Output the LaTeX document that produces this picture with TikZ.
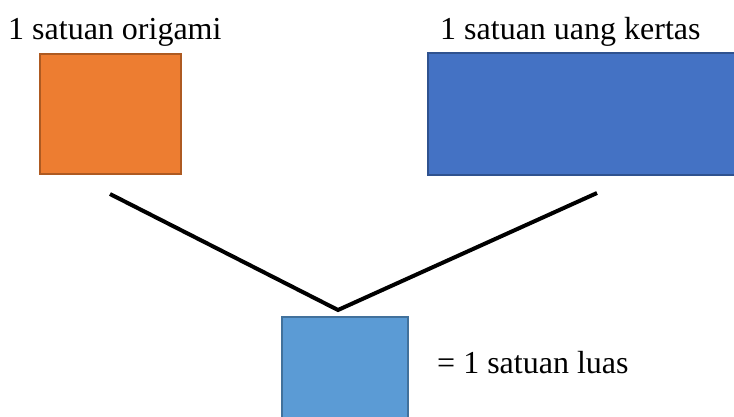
\documentclass[tikz,border=0pt]{standalone}
\usepackage{fontspec}
\setmainfont{Liberation Serif}
\definecolor{orfill}{HTML}{ED7D31}
\definecolor{ordraw}{HTML}{AE5A21}
\definecolor{bfill}{HTML}{4472C4}
\definecolor{bdraw}{HTML}{2F528F}
\definecolor{lbfill}{HTML}{5B9BD5}
\definecolor{lbdraw}{HTML}{41719C}
\begin{document}
\begin{tikzpicture}[x=1pt,y=-1pt,
  lbl/.style={anchor=base west,inner sep=0pt,font=\fontsize{32}{36}\selectfont},
  conn/.style={line width=4pt,black}]
\useasboundingbox (0,0) rectangle (734,417);
\fill[white] (0,0) rectangle (734,417);
\draw[fill=orfill,draw=ordraw,line width=2pt] (40,54) rectangle (181,174);
\draw[fill=bfill,draw=bdraw,line width=2pt] (428,53) rectangle (740,175);
\draw[fill=lbfill,draw=lbdraw,line width=2pt] (282,317) rectangle (408,425);
\node[lbl] (t1) at (8,40) {1 satuan origami};
\node[lbl] (t2) at (440,40) {1 satuan uang kertas};
\node[lbl] (t3) at (437,373) {= 1 satuan luas};
\coordinate (a) at (110,194);
\coordinate (v) at (338,310);
\coordinate (b) at (597,193);
\draw[conn] (a) -- (v) -- (b);
\end{tikzpicture}
\end{document}
